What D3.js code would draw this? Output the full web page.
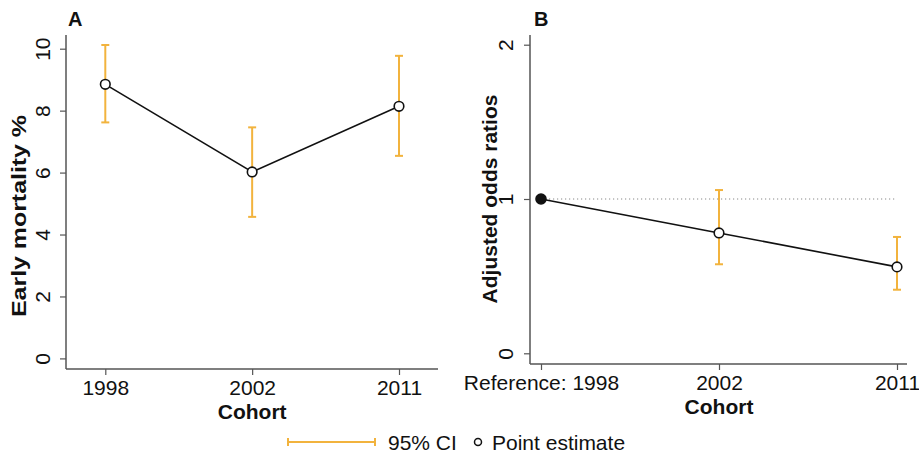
<!DOCTYPE html>
<html>
<head>
<meta charset="utf-8">
<script src="https://cdn.jsdelivr.net/npm/d3@7"></script>
<style>
  html, body { margin: 0; padding: 0; background: #fff; }
  svg { display: block; font-family: "Liberation Sans", Arial, sans-serif; }
</style>
</head>
<body>
<svg id="chart" width="919" height="455"></svg>
<script>
// ---- Data ----
const cohortsA = ["1998", "2002", "2011"];
const mortality = [8.85, 6.02, 8.14];
const mortalityLow = [7.62, 4.57, 6.54];
const mortalityHigh = [10.12, 7.46, 9.77];
const yTicksA = [0, 2, 4, 6, 8, 10];

const cohortsB = ["Reference: 1998", "2002", "2011"];
const oddsRatio = [1, 0.78, 0.56];
const oddsLow = [null, 0.577, 0.412];
const oddsHigh = [null, 1.058, 0.754];
const yTicksB = [0, 1, 2];

const legendLabels = ["95% CI", "Point estimate"];

// ---- Styles ----
const ORANGE = "#f2b33d";
const AXIS = "#555";
const FONT = 21;

const svg = d3.select("#chart");

function panel(cfg) {
  const g = svg.append("g");
  const x = d3.scalePoint().domain(cfg.cats).range(cfg.xRange);
  const y = d3.scaleLinear().domain(cfg.yDomain).range(cfg.yRange);

  // axis lines
  g.append("line").attr("x1", cfg.ax).attr("x2", cfg.ax).attr("y1", cfg.top).attr("y2", cfg.ay)
    .attr("stroke", AXIS).attr("stroke-width", 1.5);
  g.append("line").attr("x1", cfg.ax).attr("x2", cfg.right).attr("y1", cfg.ay).attr("y2", cfg.ay)
    .attr("stroke", AXIS).attr("stroke-width", 1.5);

  // y axis
  const yAx = g.append("g").attr("transform", `translate(${cfg.ax},0)`)
    .call(d3.axisLeft(y).tickValues(cfg.yTicks).tickSize(6).tickFormat(d3.format("d")));
  yAx.select(".domain").remove();
  yAx.selectAll("line").attr("stroke", AXIS).attr("stroke-width", 1.2);
  yAx.selectAll("text")
    .attr("transform", "rotate(-90)")
    .attr("x", 0).attr("y", -cfg.yLabelOff).attr("dy", 0)
    .attr("text-anchor", "middle")
    .attr("font-size", FONT).attr("fill", "#111")
    .attr("font-family", "Liberation Sans, Arial, sans-serif");

  // x axis
  const xAx = g.append("g").attr("transform", `translate(0,${cfg.ay})`)
    .call(d3.axisBottom(x).tickSize(6));
  xAx.select(".domain").remove();
  xAx.selectAll("line").attr("stroke", AXIS).attr("stroke-width", 1.2);
  xAx.selectAll("text")
    .attr("y", 26).attr("dy", 0)
    .attr("font-size", FONT).attr("fill", "#111")
    .attr("font-family", "Liberation Sans, Arial, sans-serif");

  // axis titles
  const yt = g.append("text")
    .attr("transform", `translate(${cfg.yTitleX},${cfg.yTitleY}) rotate(-90)`)
    .attr("text-anchor", "middle").attr("font-weight", "bold").attr("font-size", FONT)
    .attr("fill", "#111").text(cfg.yTitle);
  if (cfg.yTitleLen) yt.attr("textLength", cfg.yTitleLen).attr("lengthAdjust", "spacingAndGlyphs");
  g.append("text")
    .attr("x", x(cfg.cats[1])).attr("y", cfg.ay + 50)
    .attr("text-anchor", "middle").attr("font-weight", "bold").attr("font-size", FONT)
    .attr("fill", "#111").text("Cohort");

  // panel letter
  g.append("text").attr("x", cfg.letterX).attr("y", 26)
    .attr("font-weight", "bold").attr("font-size", 20).attr("fill", "#111").text(cfg.letter);

  return { g, x, y };
}

// ---- Panel A ----
const A = panel({
  cats: cohortsA, xRange: [105.3, 399], yDomain: [0, 10], yRange: [358.4, 48.7],
  ax: 66, ay: 369, top: 35, right: 438, yTicks: yTicksA, yLabelOff: 16,
  yTitle: "Early mortality %", yTitleX: 26, yTitleY: 216, yTitleLen: 202,
  letter: "A", letterX: 68
});

// CI bars A
const ciA = A.g.append("g");
cohortsA.forEach((c, i) => {
  const cx = A.x(c);
  ciA.append("line").attr("x1", cx).attr("x2", cx)
    .attr("y1", A.y(mortalityLow[i])).attr("y2", A.y(mortalityHigh[i]))
    .attr("stroke", ORANGE).attr("stroke-width", 2);
  [mortalityLow[i], mortalityHigh[i]].forEach(v => {
    ciA.append("line").attr("x1", cx - 4).attr("x2", cx + 4)
      .attr("y1", A.y(v)).attr("y2", A.y(v)).attr("stroke", ORANGE).attr("stroke-width", 2);
  });
});
A.g.append("path")
  .datum(cohortsA.map((c, i) => [A.x(c), A.y(mortality[i])]))
  .attr("d", d3.line()).attr("fill", "none").attr("stroke", "#111").attr("stroke-width", 1.6);
A.g.selectAll("circle.pt").data(cohortsA).join("circle")
  .attr("cx", c => A.x(c)).attr("cy", (c, i) => A.y(mortality[i])).attr("r", 4.8)
  .attr("fill", "#fff").attr("stroke", "#111").attr("stroke-width", 1.6);

// ---- Panel B ----
const B = panel({
  cats: cohortsB, xRange: [541, 897], yDomain: [0, 2], yRange: [353.3, 44.7],
  ax: 530, ay: 364, top: 35, right: 907, yTicks: yTicksB, yLabelOff: 17,
  yTitle: "Adjusted odds ratios", yTitleX: 497, yTitleY: 199, letter: "B", letterX: 534
});

// reference line at 1
B.g.append("line").attr("x1", B.x(cohortsB[0])).attr("x2", B.x(cohortsB[2]))
  .attr("y1", B.y(1)).attr("y2", B.y(1))
  .attr("stroke", "#888").attr("stroke-width", 1).attr("stroke-dasharray", "1.2,2.8");

const ciB = B.g.append("g");
cohortsB.forEach((c, i) => {
  if (oddsLow[i] == null) return;
  const cx = B.x(c);
  ciB.append("line").attr("x1", cx).attr("x2", cx)
    .attr("y1", B.y(oddsLow[i])).attr("y2", B.y(oddsHigh[i]))
    .attr("stroke", ORANGE).attr("stroke-width", 2);
  [oddsLow[i], oddsHigh[i]].forEach(v => {
    ciB.append("line").attr("x1", cx - 4).attr("x2", cx + 4)
      .attr("y1", B.y(v)).attr("y2", B.y(v)).attr("stroke", ORANGE).attr("stroke-width", 2);
  });
});
B.g.append("path")
  .datum(cohortsB.map((c, i) => [B.x(c), B.y(oddsRatio[i])]))
  .attr("d", d3.line()).attr("fill", "none").attr("stroke", "#111").attr("stroke-width", 1.6);
B.g.selectAll("circle.pt").data(cohortsB).join("circle")
  .attr("cx", c => B.x(c)).attr("cy", (c, i) => B.y(oddsRatio[i]))
  .attr("r", (c, i) => i === 0 ? 5 : 4.8)
  .attr("fill", (c, i) => i === 0 ? "#111" : "#fff")
  .attr("stroke", "#111").attr("stroke-width", 1.6);

// ---- Legend ----
const lg = svg.append("g");
lg.append("line").attr("x1", 288).attr("x2", 375).attr("y1", 442).attr("y2", 442)
  .attr("stroke", ORANGE).attr("stroke-width", 2);
[288, 375].forEach(xx => lg.append("line").attr("x1", xx).attr("x2", xx)
  .attr("y1", 438).attr("y2", 446).attr("stroke", ORANGE).attr("stroke-width", 2));
lg.append("text").attr("x", 388).attr("y", 449.5).attr("font-size", FONT).attr("fill", "#111")
  .text(legendLabels[0]);
lg.append("circle").attr("cx", 478).attr("cy", 442).attr("r", 3.5)
  .attr("fill", "#fff").attr("stroke", "#111").attr("stroke-width", 1.5);
lg.append("text").attr("x", 492).attr("y", 449.5).attr("font-size", FONT).attr("fill", "#111")
  .text(legendLabels[1]);
</script>
</body>
</html>
